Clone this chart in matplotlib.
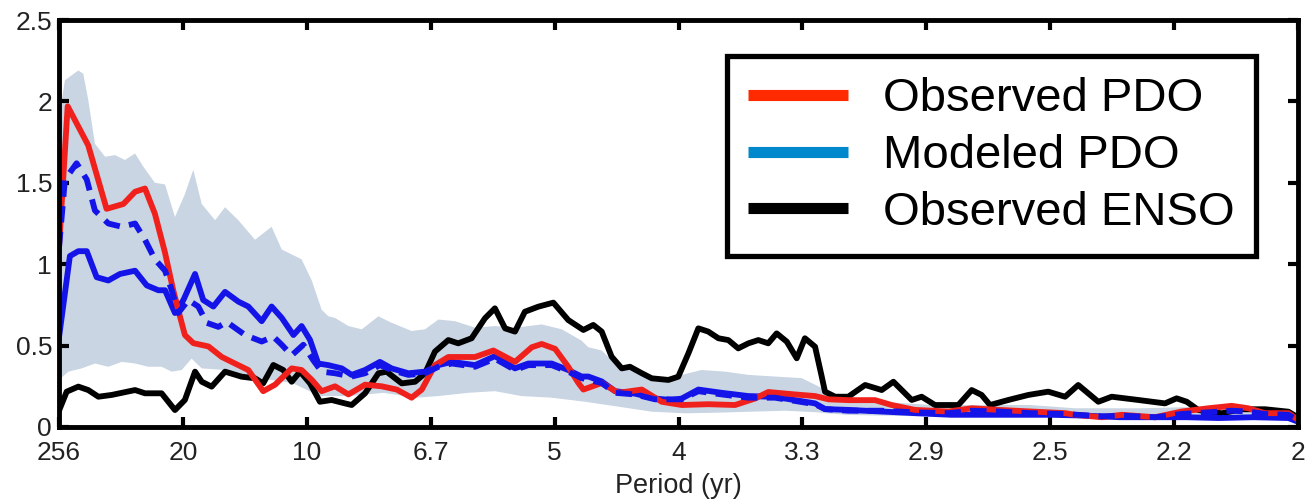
import matplotlib
matplotlib.use("Agg")
import matplotlib.pyplot as plt
from matplotlib.lines import Line2D
import numpy as np

plt.rcParams['font.family'] = ['Liberation Sans', 'DejaVu Sans']

# x axis: frequency (cycles/yr), labelled by period
tick_freq = [0.0, 0.05, 0.10, 0.15, 0.20, 0.25, 0.30, 0.35, 0.40, 0.45, 0.50]
tick_labels = ["256", "20", "10", "6.7", "5", "4", "3.3", "2.9", "2.5", "2.2", "2"]
ytick_vals = [0, 0.5, 1, 1.5, 2, 2.5]
ytick_labels = ["0", "0.5", "1", "1.5", "2", "2.5"]

# Observed PDO (red)
obs_pdo_f = [0.0, 0.0035, 0.0118, 0.0192, 0.026, 0.0307, 0.0347, 0.0387, 0.0428, 0.0461,
             0.0488, 0.0508, 0.0542, 0.0603, 0.0657, 0.071, 0.0764, 0.0824, 0.0872, 0.0939,
             0.0979, 0.102, 0.106, 0.1114, 0.1168, 0.1235, 0.1302, 0.1363, 0.1423, 0.1464,
             0.1517, 0.1571, 0.1679, 0.1753, 0.184, 0.1908, 0.1948, 0.2002, 0.2055, 0.2096,
             0.2116, 0.219, 0.2257, 0.2352, 0.2432, 0.2513, 0.262, 0.2728, 0.2809, 0.2862,
             0.297, 0.3051, 0.3105, 0.3185, 0.3293, 0.336, 0.3454, 0.3589, 0.3683, 0.3791,
             0.3925, 0.406, 0.41, 0.4208, 0.4289, 0.4423, 0.453, 0.4638, 0.4732, 0.4799,
             0.4867, 0.4961, 0.4995]
obs_pdo_v = [1.1, 1.97, 1.73, 1.34, 1.37, 1.445, 1.465, 1.31, 1.07, 0.84,
             0.68, 0.565, 0.515, 0.495, 0.43, 0.39, 0.35, 0.22, 0.26, 0.36,
             0.35, 0.29, 0.22, 0.25, 0.20, 0.26, 0.25, 0.23, 0.18, 0.23,
             0.38, 0.43, 0.43, 0.47, 0.40, 0.49, 0.51, 0.48, 0.37, 0.27,
             0.23, 0.27, 0.21, 0.23, 0.155, 0.135, 0.14, 0.135, 0.175, 0.215,
             0.20, 0.19, 0.17, 0.165, 0.165, 0.135, 0.105, 0.095, 0.115, 0.105,
             0.095, 0.085, 0.075, 0.06, 0.075, 0.06, 0.095, 0.115, 0.13, 0.115,
             0.085, 0.085, 0.05]

# Modeled PDO (blue solid)
mod_pdo_f = [0.0, 0.0044, 0.0078, 0.0112, 0.0152, 0.0199, 0.0246, 0.0307, 0.0354, 0.0401,
             0.0428, 0.0468, 0.0502, 0.0549, 0.0582, 0.0623, 0.067, 0.0724, 0.0764, 0.0818,
             0.0858, 0.0899, 0.0946, 0.0979, 0.1013, 0.1046, 0.1087, 0.1141, 0.1181, 0.1235,
             0.1295, 0.1342, 0.141, 0.1477, 0.1531, 0.1585, 0.1679, 0.1759, 0.184, 0.1894,
             0.1988, 0.2055, 0.2109, 0.2136, 0.219, 0.2244, 0.2324, 0.2405, 0.2473, 0.2513,
             0.258, 0.2674, 0.2782, 0.2889, 0.297, 0.3051, 0.3091, 0.3185, 0.332, 0.3454,
             0.36, 0.374, 0.387, 0.4, 0.414, 0.428, 0.442, 0.455, 0.468, 0.482,
             0.4961, 0.4995]
mod_pdo_v = [0.55, 1.05, 1.08, 1.08, 0.92, 0.90, 0.94, 0.96, 0.87, 0.84,
             0.84, 0.70, 0.78, 0.94, 0.78, 0.74, 0.83, 0.77, 0.74, 0.65,
             0.74, 0.67, 0.565, 0.62, 0.535, 0.39, 0.38, 0.36, 0.32, 0.35,
             0.40, 0.36, 0.33, 0.34, 0.38, 0.40, 0.38, 0.435, 0.36, 0.39,
             0.39, 0.35, 0.31, 0.31, 0.28, 0.22, 0.205, 0.175, 0.165, 0.175,
             0.23, 0.21, 0.19, 0.185, 0.165, 0.145, 0.11, 0.105, 0.095, 0.085,
             0.075, 0.075, 0.075, 0.075, 0.07, 0.06, 0.06, 0.06, 0.055, 0.06,
             0.055, 0.035]

# Modeled PDO, second estimate (blue dashed)
mod2_f = [0.0, 0.0024, 0.0071, 0.0112, 0.0145, 0.0199, 0.0253, 0.0307, 0.0347, 0.0387,
          0.0428, 0.0455, 0.0481, 0.0522, 0.0562, 0.0596, 0.0643, 0.0677, 0.0751, 0.0818,
          0.0865, 0.0899, 0.0939, 0.0986, 0.1026, 0.106, 0.1114, 0.1181, 0.1235, 0.1295,
          0.1342, 0.141, 0.1477, 0.1531, 0.1585, 0.1679, 0.1759, 0.184, 0.1894, 0.1988,
          0.2055, 0.2109, 0.219, 0.2244, 0.2324, 0.2405, 0.2513, 0.258, 0.2674, 0.2782,
          0.2889, 0.297, 0.3051, 0.3091, 0.3185, 0.332, 0.3454, 0.3589, 0.3683, 0.3791,
          0.3925, 0.406, 0.4208, 0.4289, 0.4423, 0.453, 0.4638, 0.4732, 0.4799, 0.4867,
          0.4961, 0.4995]
mod2_v = [1.1, 1.52, 1.62, 1.52, 1.33, 1.25, 1.23, 1.25, 1.15, 1.03,
          0.96, 0.84, 0.70, 0.78, 0.74, 0.64, 0.615, 0.645, 0.565, 0.525,
          0.555, 0.505, 0.44, 0.505, 0.41, 0.34, 0.33, 0.31, 0.33, 0.38,
          0.35, 0.32, 0.33, 0.37, 0.39, 0.37, 0.42, 0.35, 0.38, 0.38,
          0.34, 0.30, 0.27, 0.21, 0.20, 0.17, 0.17, 0.22, 0.20, 0.18,
          0.18, 0.16, 0.14, 0.11, 0.10, 0.10, 0.09, 0.085, 0.10, 0.095,
          0.085, 0.08, 0.065, 0.07, 0.06, 0.08, 0.09, 0.10, 0.095, 0.08,
          0.075, 0.045]

# Observed ENSO (black)
enso_f = [0.0, 0.0031, 0.0078, 0.0118, 0.0159, 0.0213, 0.0307, 0.0347, 0.0414, 0.0468,
          0.0508, 0.0549, 0.0576, 0.0616, 0.067, 0.0737, 0.0791, 0.0824, 0.0865, 0.0905,
          0.0939, 0.0973, 0.1013, 0.1053, 0.11, 0.1154, 0.1181, 0.1235, 0.1289, 0.1322,
          0.1383, 0.1437, 0.1477, 0.1517, 0.1571, 0.1611, 0.1665, 0.1719, 0.1759, 0.18,
          0.184, 0.188, 0.1934, 0.1995, 0.2055, 0.2116, 0.2156, 0.219, 0.223, 0.2271,
          0.2304, 0.2352, 0.2392, 0.2459, 0.2499, 0.254, 0.258, 0.262, 0.2661, 0.2701,
          0.2741, 0.2782, 0.2822, 0.2862, 0.2896, 0.2937, 0.2977, 0.301, 0.3051, 0.3078,
          0.3091, 0.3132, 0.3185, 0.3253, 0.332, 0.3367, 0.3441, 0.3481, 0.3535, 0.3629,
          0.3683, 0.3723, 0.3757, 0.3831, 0.3912, 0.3992, 0.4060, 0.4113, 0.4194, 0.4248,
          0.4355, 0.4463, 0.451, 0.4551, 0.4598, 0.4692, 0.4772, 0.4867, 0.4961, 0.4995]
enso_v = [0.10, 0.217, 0.248, 0.227, 0.186, 0.197, 0.227, 0.207, 0.207, 0.104,
          0.166, 0.34, 0.278, 0.248, 0.34, 0.309, 0.299, 0.268, 0.381, 0.35,
          0.278, 0.34, 0.268, 0.155, 0.166, 0.145, 0.135, 0.207, 0.33, 0.34,
          0.268, 0.278, 0.33, 0.463, 0.534, 0.514, 0.545, 0.668, 0.729, 0.606,
          0.586, 0.708, 0.739, 0.764, 0.657, 0.596, 0.627, 0.586, 0.432, 0.36,
          0.37, 0.33, 0.299, 0.289, 0.309, 0.453, 0.606, 0.586, 0.545, 0.534,
          0.483, 0.514, 0.534, 0.514, 0.575, 0.524, 0.422, 0.545, 0.493, 0.309,
          0.217, 0.186, 0.186, 0.258, 0.227, 0.278, 0.166, 0.186, 0.135, 0.135,
          0.227, 0.197, 0.135, 0.166, 0.197, 0.217, 0.186, 0.258, 0.155, 0.186,
          0.166, 0.145, 0.176, 0.155, 0.104, 0.084, 0.109, 0.109, 0.094, 0.063]

# Model spread band (upper / lower)
band_up_f = [0.0, 0.0024, 0.0078, 0.0098, 0.0118, 0.0145, 0.0186, 0.0226, 0.0266, 0.0307,
             0.034, 0.0387, 0.0428, 0.0468, 0.0508, 0.0542, 0.0576, 0.063, 0.067, 0.0724,
             0.0791, 0.0858, 0.0899, 0.0979, 0.102, 0.106, 0.1087, 0.1114, 0.1168, 0.1222,
             0.1289, 0.1342, 0.1423, 0.1477, 0.1531, 0.1598, 0.1679, 0.1759, 0.184, 0.1948,
             0.2029, 0.2109, 0.2136, 0.219, 0.223, 0.2297, 0.2378, 0.2459, 0.2513, 0.2593,
             0.2688, 0.2782, 0.2889, 0.2997, 0.3064, 0.3091, 0.3132, 0.332, 0.352, 0.372,
             0.392, 0.41, 0.4369, 0.4638, 0.4961, 0.5]
band_up_v = [1.9, 2.13, 2.19, 2.17, 2.01, 1.74, 1.66, 1.67, 1.64, 1.68,
             1.60, 1.50, 1.49, 1.29, 1.43, 1.58, 1.37, 1.27, 1.35, 1.27,
             1.15, 1.23, 1.09, 1.03, 0.90, 0.72, 0.68, 0.67, 0.62, 0.60,
             0.68, 0.64, 0.59, 0.60, 0.66, 0.65, 0.61, 0.62, 0.61, 0.63,
             0.60, 0.53, 0.49, 0.47, 0.41, 0.36, 0.31, 0.30, 0.32, 0.35,
             0.34, 0.32, 0.31, 0.30, 0.25, 0.23, 0.18, 0.155, 0.135, 0.135,
             0.135, 0.115, 0.115, 0.125, 0.105, 0.06]
band_lo_f = [0.0, 0.0038, 0.0092, 0.0145, 0.0199, 0.0253, 0.0307, 0.036, 0.0414, 0.0455,
             0.0495, 0.0535, 0.0576, 0.0669, 0.0807, 0.0942, 0.1053, 0.1174, 0.1308, 0.1443,
             0.1531, 0.1652, 0.1759, 0.1867, 0.1988, 0.2123, 0.2257, 0.2392, 0.2526, 0.2661,
             0.2795, 0.2930, 0.3064, 0.3091, 0.3185, 0.35, 0.40, 0.45, 0.49, 0.5]
band_lo_v = [0.29, 0.34, 0.36, 0.39, 0.37, 0.40, 0.39, 0.37, 0.37, 0.34,
             0.35, 0.42, 0.36, 0.35, 0.30, 0.27, 0.19, 0.19, 0.21, 0.18,
             0.19, 0.21, 0.22, 0.19, 0.18, 0.155, 0.125, 0.094, 0.084, 0.088,
             0.094, 0.10, 0.09, 0.085, 0.074, 0.065, 0.062, 0.058, 0.055, 0.03]

legend_labels = ["Observed PDO", "Modeled PDO", "Observed ENSO"]
legend_colors = ["#ff2a00", "#0088cc", "#000000"]

fig = plt.figure(figsize=(13.08, 4.99), dpi=100)
ax = fig.add_axes([0.0451, 0.1443, 0.9473, 0.8156])

band_x = np.concatenate([band_up_f, band_lo_f[::-1]])
band_y = np.concatenate([band_up_v, band_lo_v[::-1]])
ax.fill(band_x, band_y, color="#c9d5e3", lw=0, zorder=1)

lw = 4.2
ax.plot(enso_f, enso_v, color="#000000", lw=lw, zorder=3, solid_joinstyle="round")
ax.plot(mod_pdo_f, mod_pdo_v, color="#1414e8", lw=lw, zorder=4, solid_joinstyle="round")
ax.plot(obs_pdo_f, obs_pdo_v, color="#f0211c", lw=lw, zorder=5, solid_joinstyle="round")
ax.plot(mod2_f, mod2_v, color="#1414e8", lw=lw, ls=(0, (2.8, 1.6)), zorder=6)

ax.set_xlim(0, 0.5)
ax.set_ylim(0, 2.5)
ax.set_xticks(tick_freq)
ax.set_xticklabels(tick_labels)
ax.set_yticks(ytick_vals)
ax.set_yticklabels(ytick_labels)
ax.tick_params(direction="in", length=7, width=3, labelsize=19, top=True, right=True,
               color="black", labelcolor="#222222")
ax.tick_params(axis="x", pad=10)
ax.tick_params(axis="y", pad=5)
for s in ax.spines.values():
    s.set_linewidth(3.5)
    s.set_color("black")
    s.set_zorder(10)
ax.set_xlabel("Period (yr)", fontsize=19.5, color="#222222", labelpad=6)

handles = [Line2D([], [], color=c, lw=8, solid_capstyle="butt") for c in legend_colors]
leg = ax.legend(handles, legend_labels, loc="upper right", bbox_to_anchor=(0.966, 0.911),
                fontsize=34, frameon=True, fancybox=False, edgecolor="black",
                framealpha=1.0, handlelength=2.1, handletextpad=0.75, labelspacing=0.27,
                borderpad=0.45, borderaxespad=0.0)
leg.get_frame().set_linewidth(3.8)
leg.set_zorder(20)

fig.savefig("out.png", dpi=100, facecolor="white")
